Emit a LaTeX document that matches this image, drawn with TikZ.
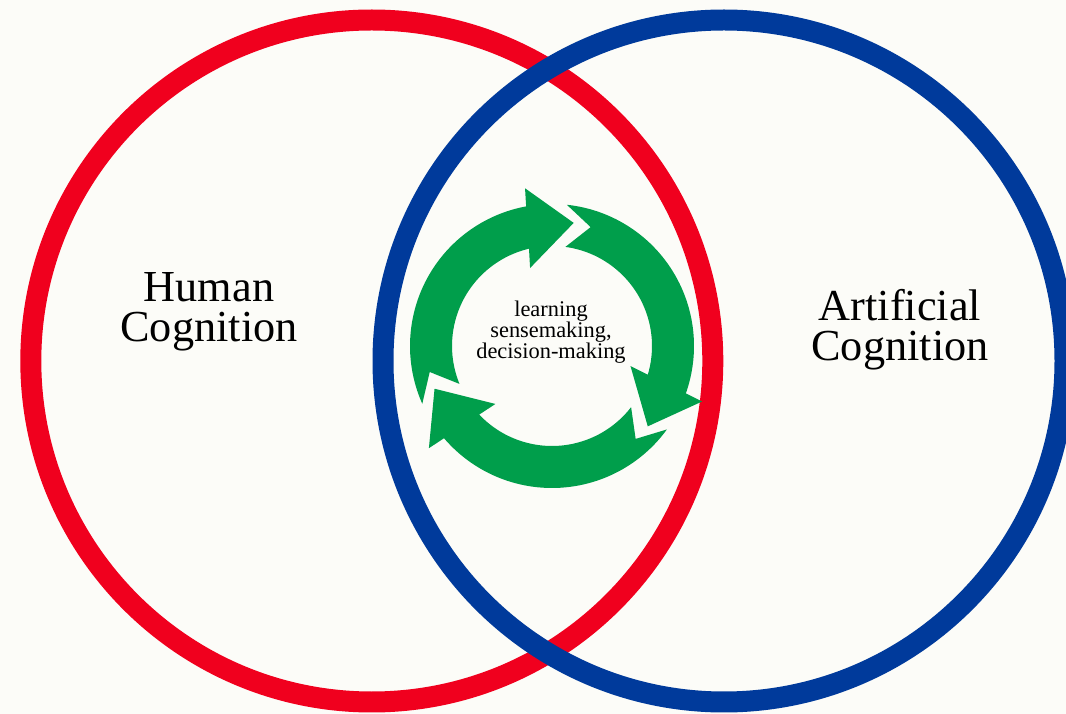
\documentclass[tikz,border=0pt]{standalone}
\usepackage{fontspec}
\setmainfont{Liberation Serif}
\definecolor{vennred}{RGB}{240,0,30}
\definecolor{vennblue}{RGB}{0,58,155}
\definecolor{cyclegreen}{RGB}{0,158,75}
\definecolor{paper}{RGB}{252,252,248}
\tikzset{
  ring/.style={line width=0.42cm},
  biglabel/.style={align=center, inner sep=0pt, font=\fontsize{25.2}{22.7}\selectfont},
  cyclelabel/.style={align=center, inner sep=0pt, font=\fontsize{12.75}{11.9}\selectfont}
}
\begin{document}
\begin{tikzpicture}[x=0.02cm, y=0.02cm]
\useasboundingbox (0,0) rectangle (1066,714);
\clip (0,0) rectangle (1066,714);
\fill[paper] (0,0) rectangle (1066,714);
\draw[ring, vennred] (371.8,353) circle [radius=341];
\draw[ring, vennblue] (724,353) circle [radius=341];
\node[biglabel] (human) at (209,402) {Human\\Cognition};
\node[biglabel] (artificial) at (900,384) {Artificial\\Cognition};
% the three arrows of the cycle
\begin{scope}[shift={(552,368)}]
\foreach \rot in {0,-120,-240}
  \fill[cyclegreen, rotate=\rot] (204:142) arc [start angle=204, end angle=100.5, radius=142]
    -- (99.7:160) -- (80:125) -- (105.7:81) -- (103.3:100)
    arc [start angle=103.3, end angle=202.3, radius=100] -- (192:125) -- cycle;
\end{scope}
\node[cyclelabel] (cycle) at (551,382) {learning\\sensemaking,\\decision-making};
\end{tikzpicture}
\end{document}
